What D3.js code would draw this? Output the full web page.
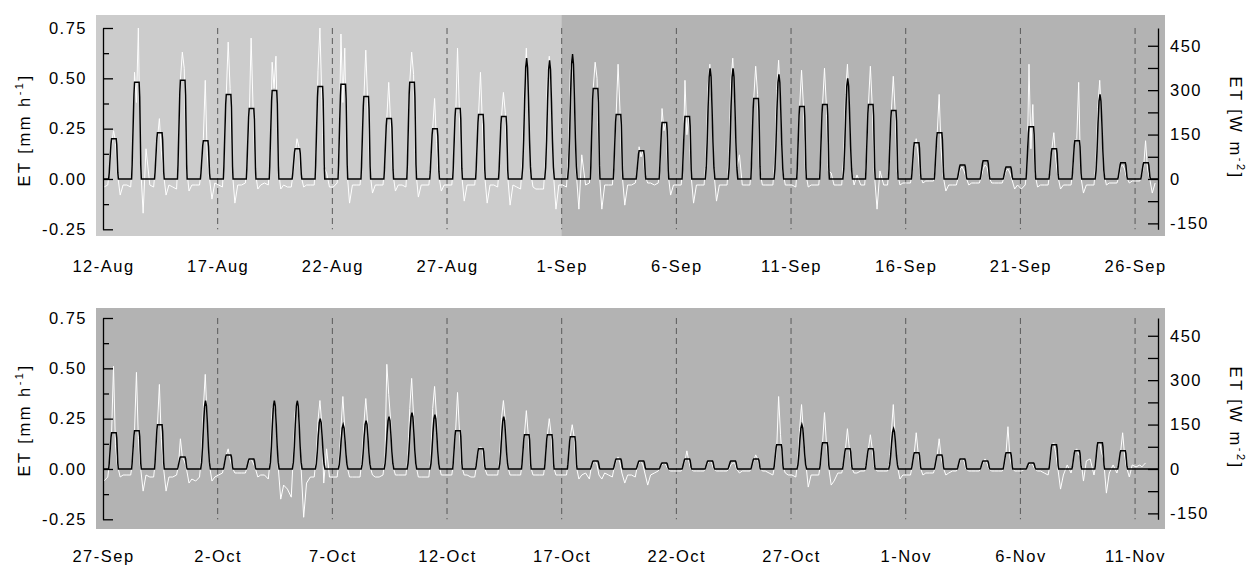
<!DOCTYPE html>
<html>
<head>
<meta charset="utf-8">
<script src="https://cdn.jsdelivr.net/npm/d3@7"></script>
<style>
  body { margin: 0; background: #fff; }
  text { font-family: "Liberation Sans", Arial, sans-serif; fill: #000; }
</style>
</head>
<body>
<svg id="chart" width="1252" height="566"></svg>
<script>
// daily peak of the black (modelled) ET, mm/h, 12-Aug .. 26-Sep
const blackTop = [0.20, 0.48, 0.23, 0.49, 0.19, 0.42, 0.35, 0.44, 0.15, 0.46,
                  0.47, 0.41, 0.30, 0.48, 0.25, 0.35, 0.32, 0.31, 0.60, 0.59,
                  0.62, 0.45, 0.32, 0.14, 0.28, 0.31, 0.55, 0.55, 0.40, 0.52,
                  0.36, 0.37, 0.50, 0.37, 0.34, 0.18, 0.23, 0.07, 0.09, 0.06,
                  0.26, 0.15, 0.19, 0.42, 0.08, 0.08];
// f = flat topped day, r = rounded day
const shapeTop = "ffffffffffffffffffrrrfffffrrfrffrffffffffffrff".split("");

// 27-Sep .. 11-Nov
const blackBottom = [0.18, 0.19, 0.22, 0.06, 0.34, 0.07, 0.05, 0.34, 0.34, 0.25,
                     0.22, 0.24, 0.26, 0.28, 0.27, 0.19, 0.10, 0.26, 0.17, 0.17,
                     0.16, 0.04, 0.05, 0.04, 0.03, 0.05, 0.04, 0.04, 0.05, 0.12,
                     0.22, 0.13, 0.10, 0.10, 0.20, 0.08, 0.07, 0.05, 0.04, 0.08,
                     0.03, 0.12, 0.09, 0.13, 0.09, 0.00];
const shapeBottom = "ffffrffrrrrrrrrffrffffffffffffrfffrfffffffffff".split("");

// diurnal shape of the black curve: [hour, fraction of daily peak]
const flatShape  = [[0, 0], [5.9, 0], [6.5, 0.15], [8.4, 0.88], [9.0, 1], [13.8, 1],
                    [14.4, 0.85], [15.5, 0.15], [16.1, 0]];
const roundShape = [[0, 0], [6.2, 0], [7.2, 0.1], [8.2, 0.33], [9.2, 0.65], [10.3, 0.92],
                    [11.3, 1], [12.3, 0.92], [13.3, 0.65], [14.3, 0.33], [15.3, 0.1], [16.3, 0]];

// measured (white) ET read at these hours of each day
const whiteHours = [1, 5, 7, 9, 11, 13, 15, 18, 21];

const whiteTop = [
  [-0.04,-0.03,0.06,0.17,0.24,0.19,0.03,-0.08,-0.03],
  [-0.03,-0.04,0.12,0.53,0.38,0.75,0.10,-0.17,0.15],
  [-0.03,-0.04,0.07,0.20,0.30,0.14,0.04,-0.08,-0.03],
  [-0.04,-0.05,0.15,0.49,0.63,0.55,0.08,-0.06,-0.03],
  [-0.03,-0.03,0.05,0.20,0.49,0.12,0.02,-0.10,-0.02],
  [-0.03,-0.04,0.12,0.42,0.68,0.45,0.06,-0.12,-0.03],
  [-0.03,-0.02,0.10,0.30,0.70,0.36,0.05,-0.05,-0.03],
  [-0.02,-0.03,0.12,0.58,0.45,0.61,0.07,-0.05,-0.03],
  [-0.04,-0.04,0.03,0.12,0.20,0.16,0.02,-0.04,-0.03],
  [-0.03,-0.03,0.14,0.54,0.75,0.40,0.06,0.03,-0.04],
  [-0.04,-0.02,0.13,0.72,0.38,0.65,0.06,-0.12,-0.03],
  [-0.03,-0.03,0.11,0.40,0.64,0.38,0.05,-0.07,-0.03],
  [-0.03,-0.03,0.08,0.30,0.48,0.28,0.04,-0.06,-0.03],
  [-0.03,-0.04,0.14,0.48,0.63,0.52,0.06,-0.09,-0.03],
  [-0.03,-0.03,0.07,0.25,0.40,0.18,0.03,-0.06,-0.03],
  [-0.03,-0.03,0.10,0.30,0.65,0.33,0.04,-0.11,-0.03],
  [-0.03,-0.03,0.09,0.32,0.53,0.28,0.04,-0.12,-0.03],
  [-0.03,-0.04,0.08,0.31,0.43,0.33,0.04,-0.13,-0.03],
  [-0.04,-0.05,0.10,0.45,0.65,0.38,0.05,-0.04,-0.05],
  [-0.05,-0.05,0.10,0.50,0.61,0.45,0.05,-0.15,-0.03],
  [-0.03,-0.04,0.12,0.54,0.62,0.40,0.05,-0.15,0.12],
  [-0.03,-0.02,0.12,0.45,0.58,0.50,0.06,-0.15,-0.03],
  [-0.03,-0.03,0.09,0.32,0.57,0.34,0.04,-0.13,-0.03],
  [-0.03,-0.02,0.03,0.16,0.11,0.14,0.02,-0.02,-0.02],
  [-0.03,-0.02,0.07,0.35,0.24,0.28,0.04,-0.08,-0.03],
  [-0.03,-0.03,0.08,0.49,0.22,0.31,0.04,-0.12,-0.03],
  [-0.03,-0.03,0.10,0.45,0.57,0.40,0.05,-0.11,-0.03],
  [-0.03,-0.03,0.10,0.48,0.60,0.40,0.05,0.12,-0.03],
  [-0.03,-0.03,0.10,0.40,0.56,0.42,0.05,-0.03,-0.03],
  [-0.03,-0.03,0.10,0.44,0.59,0.40,0.05,-0.03,-0.03],
  [-0.03,-0.04,0.09,0.36,0.54,0.36,0.04,-0.04,-0.03],
  [-0.03,-0.03,0.09,0.37,0.55,0.36,0.04,0.03,-0.03],
  [-0.03,-0.03,0.10,0.42,0.57,0.38,0.05,-0.03,0.02],
  [-0.03,-0.03,0.09,0.37,0.56,0.36,0.04,-0.15,0.04],
  [-0.03,-0.03,0.08,0.34,0.51,0.33,0.04,-0.03,-0.02],
  [-0.02,-0.02,0.04,0.15,0.20,0.12,0.02,-0.02,-0.01],
  [-0.01,-0.01,0.05,0.23,0.42,0.15,0.02,-0.06,-0.03],
  [-0.03,-0.03,0.01,0.05,0.06,0.04,0.01,-0.03,-0.02],
  [-0.02,-0.02,0.01,0.05,0.07,0.06,0.01,-0.02,-0.02],
  [-0.02,-0.02,0.01,0.04,0.05,0.03,0.00,-0.05,-0.03],
  [-0.05,-0.03,0.05,0.57,0.15,0.37,0.03,-0.04,-0.03],
  [-0.03,-0.03,0.04,0.15,0.23,0.10,0.02,-0.05,-0.03],
  [-0.03,-0.03,0.05,0.19,0.20,0.48,0.02,-0.07,-0.03],
  [-0.03,-0.03,0.08,0.35,0.49,0.30,0.04,-0.03,-0.02],
  [-0.02,-0.02,0.01,0.06,0.07,0.05,0.01,-0.02,-0.01],
  [-0.01,-0.01,0.02,0.06,0.19,0.05,0.01,-0.07,-0.02]
];

const whiteBottom = [
  [-0.06,-0.04,0.04,0.18,0.51,0.12,0.02,-0.04,-0.03],
  [-0.03,-0.03,0.04,0.19,0.48,0.15,0.02,-0.11,-0.03],
  [-0.04,-0.04,0.05,0.22,0.42,0.15,0.02,-0.11,-0.04],
  [-0.04,-0.03,0.02,0.15,0.06,0.04,0.01,-0.07,-0.05],
  [-0.06,-0.04,0.06,0.30,0.47,0.25,0.03,-0.06,-0.04],
  [-0.03,-0.02,0.02,0.07,0.10,0.05,0.01,-0.02,-0.02],
  [-0.02,-0.02,0.01,0.04,0.05,0.03,0.01,-0.04,-0.03],
  [-0.03,-0.05,0.05,0.30,0.33,0.28,0.03,-0.15,-0.08],
  [-0.10,-0.14,0.05,0.28,0.34,0.25,0.03,-0.24,-0.07],
  [-0.04,-0.04,0.05,0.24,0.34,0.22,-0.07,0.10,-0.04],
  [-0.04,-0.04,0.04,0.20,0.36,0.20,0.02,-0.04,-0.04],
  [-0.04,-0.04,0.05,0.22,0.35,0.22,0.02,-0.03,-0.04],
  [-0.04,-0.03,0.05,0.52,0.37,0.24,0.02,-0.03,-0.03],
  [-0.03,-0.03,0.06,0.30,0.45,0.26,0.03,-0.04,-0.04],
  [-0.04,-0.04,0.06,0.30,0.41,0.26,0.03,-0.03,-0.03],
  [-0.03,-0.03,0.04,0.19,0.38,0.19,0.02,-0.03,-0.03],
  [-0.04,-0.04,0.02,0.10,0.11,0.10,0.01,-0.03,-0.03],
  [-0.03,-0.03,0.05,0.25,0.34,0.24,0.02,-0.03,-0.03],
  [-0.03,-0.03,0.04,0.17,0.29,0.17,0.02,-0.03,-0.03],
  [-0.03,-0.03,0.04,0.17,0.25,0.17,0.02,-0.03,-0.03],
  [-0.03,-0.03,0.04,0.16,0.22,0.16,0.02,-0.05,-0.03],
  [-0.02,-0.05,0.01,0.03,0.04,0.02,-0.03,-0.05,-0.02],
  [-0.03,-0.04,0.01,0.04,0.06,0.03,-0.02,-0.07,-0.03],
  [-0.03,-0.04,0.01,0.03,0.04,0.02,-0.02,-0.08,-0.03],
  [-0.02,-0.01,0.01,0.02,0.03,0.02,0.00,-0.01,-0.01],
  [-0.01,-0.01,0.01,0.04,0.09,0.04,0.00,-0.01,-0.01],
  [-0.01,-0.01,0.01,0.03,0.04,0.03,0.00,-0.01,-0.01],
  [-0.01,-0.01,0.00,0.02,0.03,0.03,0.00,-0.02,-0.01],
  [-0.01,-0.01,0.01,0.04,0.07,0.05,0.01,-0.01,-0.01],
  [-0.02,-0.03,0.02,0.10,0.36,0.17,0.02,-0.02,-0.03],
  [-0.03,-0.04,0.04,0.20,0.32,0.18,0.05,-0.09,-0.03],
  [-0.03,-0.03,0.03,0.13,0.28,0.13,0.02,-0.08,-0.06],
  [-0.02,-0.02,0.02,0.10,0.20,0.10,0.01,-0.02,-0.02],
  [-0.01,-0.01,0.02,0.10,0.17,0.10,0.01,-0.01,-0.01],
  [-0.01,-0.01,0.03,0.18,0.32,0.16,0.02,-0.05,-0.03],
  [-0.03,-0.03,0.02,0.08,0.18,0.08,0.01,-0.03,-0.02],
  [-0.02,-0.02,0.01,0.07,0.15,0.06,0.01,-0.03,-0.02],
  [-0.01,-0.01,0.01,0.04,0.05,0.04,0.00,-0.01,-0.01],
  [-0.01,-0.01,0.01,0.03,0.05,0.03,0.00,-0.01,-0.01],
  [-0.01,-0.01,0.01,0.08,0.21,0.06,0.01,-0.01,-0.01],
  [-0.01,0.00,0.01,0.02,0.03,0.02,0.00,-0.01,-0.01],
  [-0.02,-0.03,0.02,0.12,0.13,0.08,0.01,-0.10,-0.03],
  [0.02,-0.02,0.02,0.09,0.10,0.07,0.06,-0.06,0.04],
  [0.05,-0.03,0.02,0.12,0.13,0.08,0.05,-0.12,-0.02],
  [0.02,-0.02,0.02,0.09,0.18,0.07,0.01,-0.04,0.02],
  [0.01,0.02,0.01,0.02,0.03,null,null,null,null]
];

// left axis ticks (mm/h) and right axis ticks (W/m2)
const yTicks = [-0.25, 0, 0.25, 0.5, 0.75];
const yMinorTicks = [-0.125, 0.125, 0.375, 0.625];
const wTicks = [-150, 0, 150, 300, 450];
const wMinorTicks = [-75, 75, 225, 375];
const MM_TO_W = 680; // 1 mm/h of water ~ 680 W/m2

const panels = [
  { start: Date.UTC(2010, 7, 12), black: blackTop, shape: shapeTop, white: whiteTop,
    lightUntil: Date.UTC(2010, 8, 1), oy: 0, bgTop: 15, bgBottom: 236 },
  { start: Date.UTC(2010, 8, 27), black: blackBottom, shape: shapeBottom, white: whiteBottom,
    lightUntil: null, oy: 290, bgTop: 308, bgBottom: 529 }
];

const svg = d3.select("#chart");
const fmt = d3.utcFormat("%-d-%b");
const HOUR = 3600e3;
// plain hyphen for negatives, like the original
const hyph = f => d => f(d).replace("\u2212", "-");

panels.forEach(p => {
  const start = new Date(p.start);
  const nDays = p.black.length;
  const end = d3.utcDay.offset(start, nDays);

  const x = d3.scaleUtc().domain([start, end]).range([103, 1158]);
  const y = d3.scaleLinear().domain([-0.25, 0.75]).range([229.3 + p.oy, 28 + p.oy]);
  const yW = d3.scaleLinear().domain([-0.25 * MM_TO_W, 0.75 * MM_TO_W]).range(y.range());

  const g = svg.append("g");

  // background
  g.append("rect")
    .attr("x", 96).attr("y", p.bgTop)
    .attr("width", 1165 - 96).attr("height", p.bgBottom - p.bgTop)
    .attr("fill", "#b3b3b3");
  if (p.lightUntil) {
    g.append("rect")
      .attr("x", 96).attr("y", p.bgTop)
      .attr("width", x(new Date(p.lightUntil)) - 96).attr("height", p.bgBottom - p.bgTop)
      .attr("fill", "#cccccc");
  }

  // dashed day markers every 5 days
  const marks = d3.range(5, nDays, 5).map(k => d3.utcDay.offset(start, k));
  g.selectAll(".vline").data(marks).enter().append("line")
    .attr("x1", d => x(d)).attr("x2", d => x(d))
    .attr("y1", y(0.75)).attr("y2", y(-0.25))
    .attr("stroke", "#5a5a5a").attr("stroke-width", 1)
    .attr("stroke-dasharray", "6,4");

  // white (measured) series
  const whitePts = [];
  p.white.forEach((vals, d) => {
    const day = d3.utcDay.offset(start, d);
    vals.forEach((v, i) => {
      if (v !== null) whitePts.push({ t: new Date(+day + whiteHours[i] * HOUR), v: v });
    });
  });

  // black series
  const blackPts = [];
  p.black.forEach((pk, d) => {
    const day = d3.utcDay.offset(start, d);
    const prof = p.shape[d] === "r" ? roundShape : flatShape;
    prof.forEach(([h, f]) => blackPts.push({ t: new Date(+day + h * HOUR), v: pk * f }));
  });
  blackPts.push({ t: end, v: 0 });

  const line = d3.line().x(d => x(d.t)).y(d => y(d.v));

  g.append("path").datum(whitePts)
    .attr("d", line).attr("fill", "none")
    .attr("stroke", "#ffffff").attr("stroke-width", 1);

  g.append("path").datum(blackPts)
    .attr("d", line).attr("fill", "none")
    .attr("stroke", "#000").attr("stroke-width", 1.5);

  // left axis
  const left = g.append("g").attr("transform", "translate(103,0)");
  left.call(d3.axisLeft(y).tickValues(yTicks).tickSizeInner(-10).tickSizeOuter(0)
      .tickPadding(16).tickFormat(hyph(d3.format(".2f"))));
  left.append("g").call(d3.axisLeft(y).tickValues(yMinorTicks).tickSizeInner(-6)
      .tickSizeOuter(0).tickFormat(""))
    .select(".domain").remove();

  // right axis
  const right = g.append("g").attr("transform", "translate(1158,0)");
  right.call(d3.axisRight(yW).tickValues(wTicks).tickSizeInner(-10).tickSizeOuter(0)
      .tickPadding(12).tickFormat(hyph(d3.format("d"))));
  right.append("g").call(d3.axisRight(yW).tickValues(wMinorTicks).tickSizeInner(-10)
      .tickSizeOuter(0).tickFormat(""))
    .select(".domain").remove();

  // bottom date labels
  const bottom = g.append("g").attr("transform", `translate(0,${p.oy + 240})`);
  bottom.call(d3.axisBottom(x).tickValues(d3.range(0, nDays, 5).map(k => d3.utcDay.offset(start, k)))
      .tickSize(0).tickPadding(20).tickFormat(fmt));
  bottom.select(".domain").remove();

  svg.selectAll(".tick text")
    .style("font-family", "'Liberation Sans', Arial, sans-serif")
    .style("font-size", "16.5px")
    .style("letter-spacing", "1.5px");
  svg.selectAll(".tick line, .domain").attr("stroke", "#000").attr("stroke-width", 1.3);

  // axis titles
  const lt = g.append("text")
    .attr("transform", `translate(30,${130 + p.oy}) rotate(-90)`)
    .attr("text-anchor", "middle")
    .style("font-size", "16.5px").style("letter-spacing", "2.5px");
  lt.append("tspan").text("ET [mm h");
  lt.append("tspan").attr("dy", -7).style("font-size", "11px").text("-1");
  lt.append("tspan").attr("dy", 7).text("]");

  const rt = g.append("text")
    .attr("transform", `translate(1230,${128 + p.oy}) rotate(90)`)
    .attr("text-anchor", "middle")
    .style("font-size", "16.5px").style("letter-spacing", "2.5px");
  rt.append("tspan").text("ET [W m");
  rt.append("tspan").attr("dy", -7).style("font-size", "11px").text("-2");
  rt.append("tspan").attr("dy", 7).text("]");
});
</script>
</body>
</html>
